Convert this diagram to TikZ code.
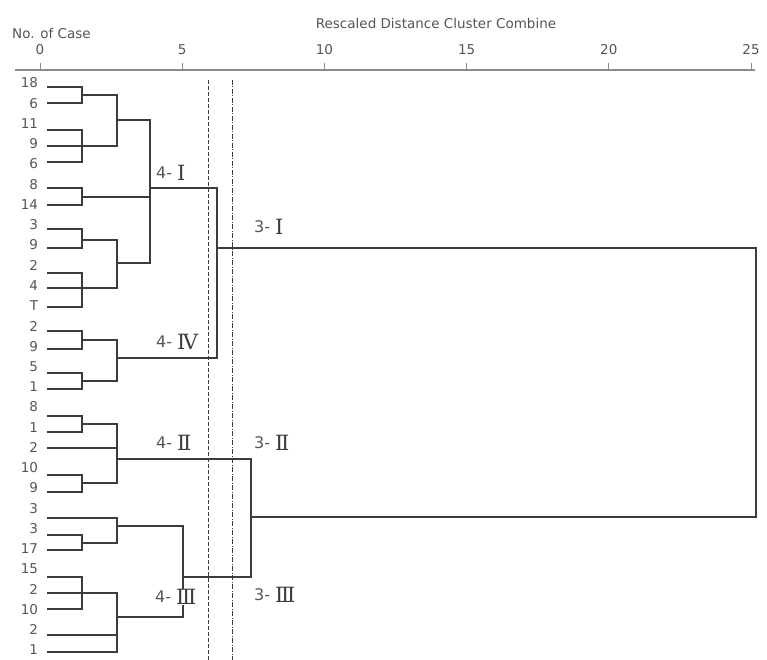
\documentclass[tikz,border=0pt]{standalone}
\usepackage{fontspec}
\setmainfont{DejaVu Sans}
\newfontfamily\numfont{DejaVu Serif}
\usepackage{xcolor}
\usepackage{tikz}
\definecolor{txtgray}{RGB}{85, 85, 85}
\definecolor{linegray}{RGB}{60, 60, 60}
\definecolor{axisgray}{RGB}{140, 140, 140}
\newcommand\romnum[1]{\raisebox{-2.5pt}{\fontsize{21}{21}\numfont\color{linegray}#1}}

\begin{document}
\begin{tikzpicture}[x=1pt,y=-1pt,case/.style={anchor=east,inner sep=0pt,outer xsep=10pt,font=\fontsize{13.5}{14}\selectfont,text=txtgray},head/.style={inner sep=0pt,font=\fontsize{13.5}{14}\selectfont,text=txtgray},grp/.style={anchor=west,inner sep=1pt,font=\fontsize{16}{16}\selectfont,text=txtgray},lnk/.style={draw=linegray,line width=1.1pt,line cap=rect},cut/.style={draw=linegray,line width=0.8pt,dash pattern=on 4pt off 2pt},cutdot/.style={draw=linegray,line width=0.8pt,dash pattern=on 5pt off 1.5pt on 1pt off 1.5pt}]
\useasboundingbox (0,0) rectangle (767,660);
\node[head,anchor=west](ncase) at (12,33){No. of Case}; \node[head](title) at (436,23){Rescaled Distance Cluster Combine};
\draw[axisgray,line width=2pt](15,70)--(755,70);
\foreach \v in {0,5,...,25}{\draw[axisgray,line width=1pt](40+28.44*\v,63)--(40+28.44*\v,70); \node[head](t\v) at (40+28.44*\v,50){\v};}
\foreach \n/\t/\y in {0/18/87,1/6/103,2/11/130,3/9/146,4/6/162,5/8/188,6/14/205,7/3/229,8/9/248,9/2/273,10/4/288,11/T/307,12/2/331,13/9/349,14/5/373,15/1/389,16/8/416,17/1/432,18/2/448,19/10/475,20/9/492,21/3/518,22/3/535,23/17/550,24/15/577,25/2/593,26/10/609,27/2/635,28/1/652}{\node[case](n\n) at (48,83+20.25*\n){\t}; \coordinate(s\n) at (48,\y);}
\coordinate(g1) at (82,95); \coordinate(g2) at (82,146); \coordinate(g3) at (117,120); \coordinate(g4) at (82,197); \coordinate(g5) at (82,240); \coordinate(g6) at (82,288); \coordinate(g7) at (117,263);
\coordinate(g8) at (82,340); \coordinate(g9) at (82,381); \coordinate(g10) at (82,424); \coordinate(g11) at (82,483); \coordinate(g12) at (82,543); \coordinate(g13) at (117,526); \coordinate(g14) at (82,593); \coordinate(g15) at (117,617);
\coordinate(fourI) at (150,188); \coordinate(fourIV) at (117,358); \coordinate(fourII) at (117,459); \coordinate(fourIII) at (183,577);
\coordinate(threeI) at (217,248); \coordinate(threeII) at (251,517); \coordinate(root) at (756,382);
\draw[lnk](s0)-|(g1); \draw[lnk](s1)-|(g1); \draw[lnk](s2)-|(g2); \draw[lnk](s3)-|(g2); \draw[lnk](s4)-|(g2);
\draw[lnk](g1)-|(g3); \draw[lnk](g2)-|(g3); \draw[lnk](s5)-|(g4); \draw[lnk](s6)-|(g4);
\draw[lnk](s7)-|(g5); \draw[lnk](s8)-|(g5); \draw[lnk](s9)-|(g6); \draw[lnk](s10)-|(g6); \draw[lnk](s11)-|(g6);
\draw[lnk](g5)-|(g7); \draw[lnk](g6)-|(g7); \draw[lnk](g3)-|(fourI); \draw[lnk](g4)-|(fourI); \draw[lnk](g7)-|(fourI);
\draw[lnk](s12)-|(g8); \draw[lnk](s13)-|(g8); \draw[lnk](s14)-|(g9); \draw[lnk](s15)-|(g9); \draw[lnk](g8)-|(fourIV); \draw[lnk](g9)-|(fourIV);
\draw[lnk](fourI)-|(threeI); \draw[lnk](fourIV)-|(threeI);
\draw[lnk](s16)-|(g10); \draw[lnk](s17)-|(g10); \draw[lnk](s19)-|(g11); \draw[lnk](s20)-|(g11);
\draw[lnk](g10)-|(fourII); \draw[lnk](s18)-|(fourII); \draw[lnk](g11)-|(fourII);
\draw[lnk](s22)-|(g12); \draw[lnk](s23)-|(g12); \draw[lnk](s21)-|(g13); \draw[lnk](g12)-|(g13);
\draw[lnk](s24)-|(g14); \draw[lnk](s25)-|(g14); \draw[lnk](s26)-|(g14); \draw[lnk](g14)-|(g15); \draw[lnk](s27)-|(g15); \draw[lnk](s28)-|(g15);
\draw[lnk](g13)-|(fourIII); \draw[lnk](g15)-|(fourIII); \draw[lnk](fourII)-|(threeII); \draw[lnk](fourIII)-|(threeII);
\draw[lnk](threeI)-|(root); \draw[lnk](threeII)-|(root);
\coordinate(cutAtop) at (208,80); \coordinate(cutAbot) at (208,660); \coordinate(cutBtop) at (232,80); \coordinate(cutBbot) at (232,660);
\draw[cut](cutAtop)--(cutAbot); \draw[cutdot](cutBtop)--(cutBbot);
\node[grp](labfourI) at (155,173){4- \romnum{Ⅰ}}; \node[grp](labfourIV) at (155,342){4- \romnum{Ⅳ}};
\node[grp](labfourII) at (155,443){4- \romnum{Ⅱ}}; \node[grp,fill=white,inner sep=0pt](labfourIII) at (155,597){4- \romnum{Ⅲ}};
\node[grp](labthreeI) at (253,227){3- \romnum{Ⅰ}}; \node[grp](labthreeII) at (253,443){3- \romnum{Ⅱ}}; \node[grp](labthreeIII) at (253,595){3- \romnum{Ⅲ}};
\end{tikzpicture}
\end{document}
